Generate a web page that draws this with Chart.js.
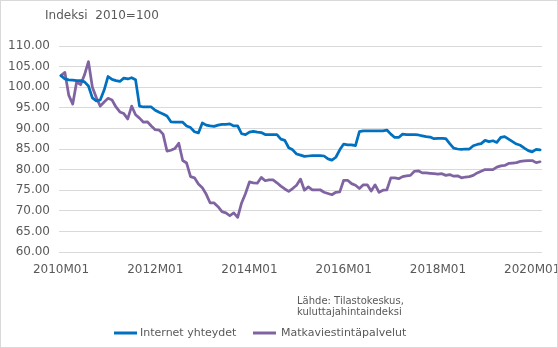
<!DOCTYPE html>
<html>
<head>
<meta charset="utf-8">
<script src="https://cdn.jsdelivr.net/npm/chart.js"></script>
<style>
  body { margin: 0; background: #fff; }
</style>
</head>
<body>
<canvas id="myChart" width="558" height="348"></canvas>
<script>
// monthly categories 2010M01 .. 2020M03
const months = [];
for (let y = 2010; y <= 2020; y++) {
  for (let m = 1; m <= 12; m++) {
    if (y === 2020 && m > 3) break;
    months.push(y + 'M' + (m < 10 ? '0' + m : m));
  }
}

const internet = [102.8,102.0,101.8,101.7,101.6,101.6,101.3,100.3,97.4,96.7,96.9,99.3,
  102.6,101.9,101.6,101.4,102.2,102.0,102.3,101.8,95.4,95.2,95.2,95.2,
  94.4,93.9,93.5,93.0,91.6,91.5,91.5,91.5,90.6,90.2,89.2,88.9,
  91.3,90.8,90.6,90.5,90.8,91.0,91.0,91.1,90.6,90.6,88.7,88.5,
  89.1,89.3,89.1,89.0,88.5,88.5,88.5,88.5,87.4,87.1,85.3,84.8,
  83.8,83.5,83.2,83.3,83.4,83.4,83.4,83.3,82.6,82.3,83.0,84.8,
  86.2,86.0,86.0,85.8,89.2,89.4,89.4,89.4,89.4,89.4,89.4,89.6,
  88.6,87.8,87.8,88.6,88.5,88.5,88.5,88.4,88.2,88.0,87.9,87.5,
  87.6,87.6,87.5,86.3,85.2,85.0,84.9,85.0,85.0,85.8,86.1,86.3,
  87.1,86.8,87.0,86.6,87.8,88.0,87.4,86.8,86.2,85.9,85.2,84.6,
  84.3,84.9,84.8];

const mobile = [102.8,103.6,98.0,95.9,101.3,100.6,103.0,106.2,100.0,97.5,95.4,96.4,
  97.3,96.9,95.2,94.0,93.6,92.3,95.4,93.3,92.5,91.5,91.6,90.6,
  89.7,89.6,88.6,84.5,84.7,85.1,86.4,82.2,81.6,78.3,78.0,76.5,
  75.6,74.0,71.9,71.9,71.0,69.8,69.5,68.8,69.5,68.4,71.9,74.2,
  77.0,76.8,76.7,78.1,77.3,77.5,77.5,76.8,76.0,75.3,74.7,75.4,
  76.2,77.7,75.0,75.8,75.1,75.1,75.1,74.5,74.2,73.9,74.5,74.6,
  77.4,77.4,76.6,76.2,75.4,76.3,76.3,74.8,76.3,74.5,75.0,75.1,
  78.0,78.0,77.8,78.3,78.5,78.6,79.6,79.7,79.2,79.2,79.1,79.0,
  78.9,79.0,78.6,78.8,78.4,78.5,78.0,78.2,78.3,78.6,79.2,79.6,
  80.0,80.0,80.0,80.6,80.9,81.0,81.5,81.6,81.7,82.0,82.1,82.2,
  82.2,81.7,81.9];

const seriesNames = ['Internet yhteydet', 'Matkaviestintäpalvelut'];
const seriesColors = ['#0070C0', '#8064A2'];

Chart.defaults.font.family = '"DejaVu Sans", sans-serif';
Chart.defaults.color = '#595959';

// title, source note, legend and frame
const extras = {
  id: 'extras',
  beforeDraw(chart) {
    const c = chart.ctx;
    c.save();
    c.fillStyle = '#fff';
    c.fillRect(0, 0, chart.width, chart.height);
    c.restore();
  },
  afterDraw(chart) {
    const c = chart.ctx;
    c.save();
    c.fillStyle = '#595959';
    c.textBaseline = 'middle';
    c.font = '12px "DejaVu Sans"';
    c.fillText('Indeksi  2010=100', 45, 16);

    c.font = '10px "DejaVu Sans"';
    c.fillText('Lähde: Tilastokeskus,', 297, 301);
    c.fillText('kuluttajahintaindeksi', 297, 312);

    // legend
    const items = [[114, 140], [253, 281]];
    c.font = '11px "DejaVu Sans"';
    chart.data.datasets.forEach((ds, i) => {
      const [lx, tx] = items[i];
      c.strokeStyle = ds.borderColor;
      c.lineWidth = 3;
      c.beginPath();
      c.moveTo(lx, 333);
      c.lineTo(lx + 23, 333);
      c.stroke();
      c.fillStyle = '#595959';
      c.fillText(ds.label, tx, 333);
    });

    c.strokeStyle = '#d9d9d9';
    c.lineWidth = 1;
    c.strokeRect(0.5, 0.5, chart.width - 1, chart.height - 1);
    c.restore();
  }
};

var ctx = document.getElementById('myChart').getContext('2d');
var chart = new Chart(ctx, {
  type: 'line',
  data: {
    labels: months,
    datasets: [
      { label: seriesNames[0], data: internet, borderColor: seriesColors[0], backgroundColor: seriesColors[0] },
      { label: seriesNames[1], data: mobile, borderColor: seriesColors[1], backgroundColor: seriesColors[1] }
    ]
  },
  options: {
    responsive: false,
    animation: false,
    layout: { padding: { left: 9, right: 16, top: 46, bottom: 70 } },
    elements: {
      point: { radius: 0 },
      line: { borderWidth: 2.75, tension: 0, borderJoinStyle: 'round', borderCapStyle: 'round' }
    },
    plugins: {
      legend: { display: false },
      tooltip: { enabled: false }
    },
    scales: {
      x: {
        offset: true,
        grid: { display: false, drawTicks: false },
        border: { display: false },
        ticks: {
          autoSkip: false,
          maxRotation: 0,
          minRotation: 0,
          padding: 11,
          font: { size: 12 },
          callback: function (v, i) { return i % 24 === 0 ? months[i] : ''; }
        },
        afterFit: function (s) { s.height = 26; }
      },
      y: {
        min: 60,
        max: 110,
        grid: { color: '#d9d9d9', lineWidth: 1, drawTicks: false },
        border: { display: false },
        ticks: {
          stepSize: 5,
          padding: 9,
          font: { size: 12 },
          callback: function (v) { return v.toFixed(2); }
        },
        afterFit: function (s) { s.width = 50; }
      }
    }
  },
  plugins: [extras]
});
</script>
</body>
</html>
